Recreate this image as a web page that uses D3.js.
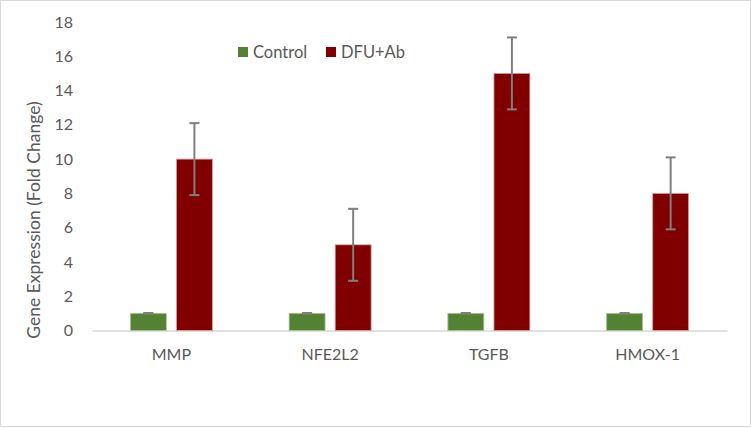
<!DOCTYPE html>
<html><head><meta charset="utf-8">
<script src="https://cdn.jsdelivr.net/npm/d3@7"></script>
<style>body{margin:0;background:#fff;}svg{display:block;font-family:Lato,"Open Sans",sans-serif;}</style>
</head><body><svg id="c" width="751" height="428"></svg>
<script>
const categories = ["MMP","NFE2L2","TGFB","HMOX-1"];
const seriesNames = ["Control","DFU+Ab"];
const controlValues = [1,1,1,1];
const controlErrors = [0.02,0.02,0.02,0.02];
const dfuValues = [10,5,15,8];
const dfuErrors = [2.1,2.1,2.1,2.1];
const yTicks = [0,2,4,6,8,10,12,14,16,18];
const colors = ["#548235","#800000"];

const svg = d3.select("#c");
svg.append("rect").attr("x",0.5).attr("y",0.5).attr("width",750).attr("height",426)
  .attr("fill","#fff").attr("stroke","#d9d9d9");

const x0 = d3.scaleBand().domain(categories).range([92,727]).paddingInner(0).paddingOuter(0);
const x1 = d3.scaleBand().domain(seriesNames).range([x0.bandwidth()/2-41, x0.bandwidth()/2+41]).paddingInner(0.22);
const y = d3.scaleLinear().domain([0,18]).range([330.5,22]);

// y tick labels
const yAxis = d3.axisLeft(y).tickValues(yTicks).tickSize(0).tickPadding(0);
const gy = svg.append("g").attr("transform","translate(73,0)").call(yAxis);
gy.select(".domain").remove();
gy.selectAll("text").attr("fill","#595959").style("font-size","16px").style("font-family","Lato,'Open Sans',sans-serif");

// x axis
const xAxis = d3.axisBottom(x0).tickSize(0).tickPadding(18);
const gx = svg.append("g").attr("transform","translate(0,330.5)").call(xAxis);
gx.select(".domain").attr("stroke","#d9d9d9").attr("stroke-width",1.5);
gx.selectAll("text").attr("fill","#595959").style("font-size","16px").style("font-family","Lato,'Open Sans',sans-serif");

const data = categories.map((c,i)=>({cat:c, vals:[
  {s:seriesNames[0], v:controlValues[i], e:controlErrors[i]},
  {s:seriesNames[1], v:dfuValues[i], e:dfuErrors[i]}]}));

const groups = svg.append("g").selectAll("g").data(data).join("g")
  .attr("transform",d=>`translate(${x0(d.cat)},0)`);
groups.selectAll("rect").data(d=>d.vals).join("rect")
  .attr("x",d=>x1(d.s)).attr("width",x1.bandwidth())
  .attr("y",d=>y(d.v)).attr("height",d=>y(0)-y(d.v))
  .attr("fill",(d,i)=>colors[i])
  .attr("stroke",(d,i)=>i===0?"#a9c591":"#d9a0a0").attr("stroke-width",0.8);

// error bars
const eb = groups.selectAll("g.eb").data(d=>d.vals).join("g").attr("class","eb");
eb.append("line")
  .attr("x1",d=>x1(d.s)+x1.bandwidth()/2).attr("x2",d=>x1(d.s)+x1.bandwidth()/2)
  .attr("y1",d=>y(d.v+d.e)).attr("y2",d=>y(d.v-d.e))
  .attr("stroke","#7f7f7f").attr("stroke-width",2);
[1,-1].forEach(sg=>{
  eb.append("line")
    .attr("x1",d=>x1(d.s)+x1.bandwidth()/2-5).attr("x2",d=>x1(d.s)+x1.bandwidth()/2+5)
    .attr("y1",d=>y(d.v+sg*d.e)).attr("y2",d=>y(d.v+sg*d.e))
    .attr("stroke","#7f7f7f").attr("stroke-width",2);
});

// axis title
svg.append("text").attr("transform","translate(40,220) rotate(-90)")
  .attr("text-anchor","middle").attr("fill","#595959").style("font-size","17.5px")
  .text("Gene Expression (Fold Change)");

// legend
const legX = [238,326];
seriesNames.forEach((s,i)=>{
  svg.append("rect").attr("x",legX[i]).attr("y",47).attr("width",10).attr("height",10).attr("fill",colors[i]);
  svg.append("text").attr("x",legX[i]+15).attr("y",58).attr("fill","#595959").style("font-size","16.5px").text(s);
});
</script></body></html>
